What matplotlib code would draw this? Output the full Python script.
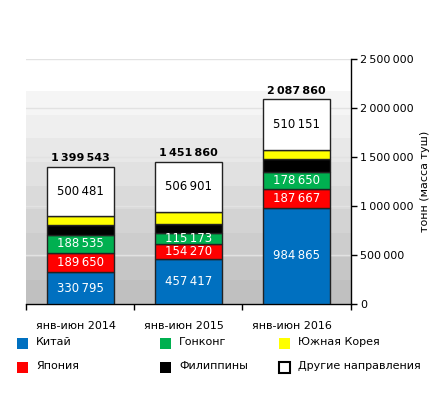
import numpy as np
import matplotlib
matplotlib.use('Agg')
import matplotlib.pyplot as plt
from matplotlib.patches import Rectangle

periods = ['янв-июн 2014', 'янв-июн 2015', 'янв-июн 2016']
china = [330795, 457417, 984865]
japan = [189650, 154270, 187667]
hongkong = [188535, 115173, 178650]
philippines = [104000, 95099, 128527]
korea = [86082, 123000, 98000]
others = [500481, 506901, 510151]
totals = [1399543, 1451860, 2087860]

series = [
    ('Китай', china, '#0070c0', 'white'),
    ('Япония', japan, '#ff0000', 'white'),
    ('Гонконг', hongkong, '#00b050', 'white'),
    ('Филиппины', philippines, '#000000', None),
    ('Южная Корея', korea, '#ffff00', None),
    ('Другие направления', others, '#ffffff', 'black'),
]


def fmt(v):
    return f'{v:,}'.replace(',', '\u2009')


plt.rcParams['font.family'] = ['DejaVu Sans']
fig = plt.figure(figsize=(4.31, 3.95), dpi=100)
ax = fig.add_axes([0.0603, 0.2296, 0.7534, 0.621])

x = np.arange(len(periods))
ax.set_xlim(-0.5, 2.5)
ax.set_ylim(0, 2500000)

# stepped gray background
levels = np.linspace(0.75, 0.96, 9)
grad = levels.reshape(-1, 1)
ax.imshow(grad, extent=(-0.5, 2.5, 0, 2170000), origin='lower', cmap='gray',
          vmin=0, vmax=1, aspect='auto', zorder=0, interpolation='nearest')

for yv in range(0, 2500001, 500000):
    ax.axhline(yv, color='#e2e2e2', lw=1.0, zorder=1)

bottom = np.zeros(3)
for name, vals, col, tcol in series:
    vals = np.array(vals, dtype=float)
    ax.bar(x, vals, 0.62, bottom=bottom, color=col, edgecolor='#222222',
           lw=1.0, zorder=3)
    if tcol is not None:
        for xi, b, v in zip(x, bottom, vals):
            ax.text(xi, b + v / 2, fmt(int(v)), ha='center', va='center',
                    color=tcol, fontsize=8.5, zorder=4)
    bottom += vals

for xi, t in zip(x, totals):
    ax.text(xi, t + 40000, fmt(t), ha='center', va='bottom',
            fontsize=8, fontweight='bold', zorder=4)

ax.yaxis.tick_right()
ax.yaxis.set_label_position('right')
ax.set_yticks(range(0, 2500001, 500000))
ax.set_yticklabels([fmt(v) for v in range(0, 2500001, 500000)], fontsize=8)
ax.set_ylabel('тонн (масса туш)', fontsize=8, labelpad=4)
ax.tick_params(axis='y', length=4, width=1, pad=3)

ax.set_xticks([-0.5, 0.5, 1.5, 2.5])
ax.set_xticklabels([])
ax.tick_params(axis='x', length=4, width=1, direction='out')
for xi, p in zip(x, periods):
    ax.text(xi - 0.04, -0.07, p, transform=ax.get_xaxis_transform(),
            ha='center', va='top', fontsize=8)

for s in ['top', 'left']:
    ax.spines[s].set_visible(False)
ax.spines['right'].set_linewidth(1)
ax.spines['bottom'].set_linewidth(1)

# legend
legend_pos = [(17, 343), (17, 367), (160, 343), (160, 367), (279, 343), (279, 367)]
order = [0, 1, 2, 3, 4, 5]
for (px, py), idx in zip(legend_pos, order):
    name, _, col, _ = series[idx]
    ec = 'black' if col == '#ffffff' else col
    lw = 1.5 if col == '#ffffff' else 0
    fig.patches.append(Rectangle((px / 431, 1 - (py + 6) / 395), 11 / 431, 11 / 395,
                                 transform=fig.transFigure, facecolor=col,
                                 edgecolor=ec, lw=lw))
    fig.text((px + 19) / 431, 1 - (py - 1) / 395, name, fontsize=8, va='center')

fig.savefig('out.png', dpi=100)
